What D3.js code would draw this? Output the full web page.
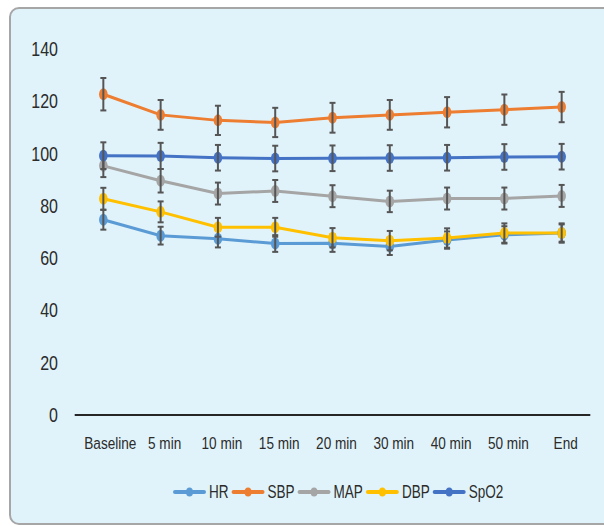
<!DOCTYPE html>
<html>
<head>
<meta charset="utf-8">
<script src="https://cdn.jsdelivr.net/npm/d3@7"></script>
<style>
  body { margin: 0; background: #fff; }
  text { font-family: "Liberation Sans Narrow", "Arial Narrow", "Liberation Sans", Arial, sans-serif; fill: #2b2b2b; }
</style>
</head>
<body>
<div id="chart"></div>
<script>
const categories = ["Baseline", "5 min", "10 min", "15 min", "20 min", "30 min", "40 min", "50 min", "End"];
const yTicks = [0, 20, 40, 60, 80, 100, 120, 140];

const hrValues   = [74.7, 68.6, 67.4, 65.6, 65.7, 64.5, 66.9, 68.9, 69.6];
const sbpValues  = [122.7, 114.8, 112.7, 111.9, 113.7, 114.8, 115.8, 116.8, 117.8];
const mapValues  = [95.3, 89.6, 84.7, 85.7, 83.7, 81.7, 82.8, 82.8, 83.8];
const dbpValues  = [82.7, 77.7, 71.8, 71.8, 67.8, 66.7, 67.7, 69.6, 69.6];
const spo2Values = [99.2, 99.1, 98.4, 98.1, 98.2, 98.3, 98.4, 98.7, 98.8];

const hrErr   = [3.8, 3.4, 3.3, 3.2, 3.3, 3.3, 3.3, 3.3, 3.3];
const sbpErr  = [6.2, 5.7, 5.6, 5.6, 5.7, 5.7, 5.8, 5.8, 5.8];
const mapErr  = [4.3, 4.5, 4.2, 4.2, 4.2, 4.1, 4.2, 4.2, 4.2];
const dbpErr  = [4.2, 4.0, 3.6, 3.6, 3.7, 3.7, 3.7, 3.7, 3.7];
const spo2Err = [5.1, 5.0, 4.9, 4.9, 4.9, 4.9, 4.9, 4.9, 4.9];

const series = [
    { name: "HR",   values: hrValues,   err: hrErr,   color: "#5b9bd5" },
    { name: "SBP",  values: sbpValues,  err: sbpErr,  color: "#ed7d31" },
    { name: "MAP",  values: mapValues,  err: mapErr,  color: "#a5a5a5" },
    { name: "DBP",  values: dbpValues,  err: dbpErr,  color: "#ffc000" },
    { name: "SpO2", values: spo2Values, err: spo2Err, color: "#4472c4" }
];

const width = 604, height = 527;
const squeeze = 0.8; // the original text is horizontally condensed

const svg = d3.select("#chart").append("svg")
    .attr("width", width)
    .attr("height", height);

// panel background (right edge runs off the picture)
svg.append("rect")
    .attr("x", 10).attr("y", 8)
    .attr("width", 640).attr("height", 516)
    .attr("rx", 9)
    .attr("fill", "#e1f3fa")
    .attr("stroke", "#a6a6a6")
    .attr("stroke-width", 2);

const x = d3.scaleBand()
    .domain(categories)
    .range([74.7, 590.3]);

const y = d3.scaleLinear()
    .domain([0, 140])
    .range([415, 49]);

const cx = c => x(c) + x.bandwidth() / 2;

// y tick labels
svg.append("g").selectAll("text")
    .data(yTicks)
    .enter().append("text")
    .attr("transform", d => `translate(58,${y(d)}) scale(${squeeze},1)`)
    .attr("dy", "0.35em")
    .attr("text-anchor", "end")
    .style("font-size", "20px")
    .text(d => d);

// x axis line
svg.append("line")
    .attr("x1", x.range()[0]).attr("x2", x.range()[1])
    .attr("y1", y(0)).attr("y2", y(0))
    .attr("stroke", "#262626")
    .attr("stroke-width", 2);

// category labels
svg.append("g").selectAll("text")
    .data(categories)
    .enter().append("text")
    .attr("transform", (d, i) => `translate(${cx(d) + (i === 0 ? 7 : 4)},443) scale(${squeeze},1)`)
    .attr("dy", "0.35em")
    .attr("text-anchor", "middle")
    .style("font-size", "17px")
    .text(d => d);

const line = d3.line()
    .x((d, i) => cx(categories[i]))
    .y(d => y(d));

// lines first, then error bars and markers on top
series.forEach(s => {
    svg.append("path")
        .attr("d", line(s.values))
        .attr("fill", "none")
        .attr("stroke", s.color)
        .attr("stroke-width", 3);
});

series.forEach(s => {
    const g = svg.append("g");
    s.values.forEach((v, i) => {
        const px = cx(categories[i]);
        const top = y(v + s.err[i]), bot = y(v - s.err[i]);
        g.append("ellipse")
            .attr("cx", px).attr("cy", y(v))
            .attr("rx", 4.3).attr("ry", 6)
            .attr("fill", s.color);
        g.append("line")
            .attr("x1", px).attr("x2", px)
            .attr("y1", top).attr("y2", bot)
            .attr("stroke", "#555").attr("stroke-width", 2);
        [top, bot].forEach(yy => {
            g.append("line")
                .attr("x1", px - 3).attr("x2", px + 3)
                .attr("y1", yy).attr("y2", yy)
                .attr("stroke", "#555").attr("stroke-width", 2);
        });
    });
});

// legend
const legend = svg.append("g").attr("transform", "translate(175, 492)");
let lx = 0;
series.forEach(s => {
    const item = legend.append("g").attr("transform", `translate(${lx},0)`);
    item.append("line")
        .attr("x1", 0).attr("x2", 29)
        .attr("y1", 0).attr("y2", 0)
        .attr("stroke", s.color)
        .attr("stroke-width", 4)
        .attr("stroke-linecap", "round");
    item.append("ellipse")
        .attr("cx", 14.5).attr("cy", 0)
        .attr("rx", 3.5).attr("ry", 4.5)
        .attr("fill", s.color);
    const t = item.append("text")
        .attr("transform", `translate(34,0) scale(${squeeze * 0.94},1)`)
        .attr("dy", "0.35em")
        .style("font-size", "18px")
        .text(s.name);
    lx += 34 + t.node().getComputedTextLength() * squeeze * 0.94 + 5;
});
</script>
</body>
</html>
